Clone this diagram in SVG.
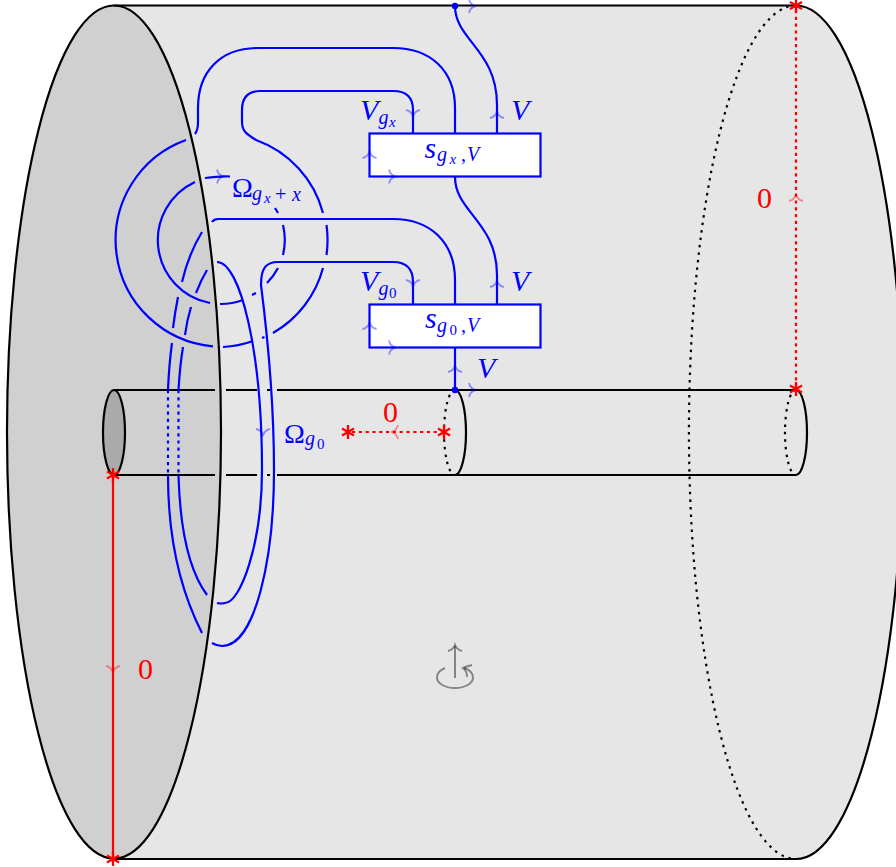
<svg xmlns="http://www.w3.org/2000/svg" xmlns:xlink="http://www.w3.org/1999/xlink" width="896" height="867" viewBox="0 0 896 867">
<style>
.k{fill:none;stroke:#000;stroke-width:2.2}
.kd{fill:none;stroke:#000;stroke-width:2.2;stroke-dasharray:2.5 5}
.b{fill:none;stroke:#00f;stroke-width:2.2}
.bd{fill:none;stroke:#00f;stroke-width:2.2;stroke-dasharray:3.2 4}
.box{fill:#fff;stroke:#00f;stroke-width:2.2}
.r{fill:none;stroke:#f00;stroke-width:2.2}
.rd{fill:none;stroke:#f00;stroke-width:2.2;stroke-dasharray:3.2 3.6}
.ab{fill:none;stroke:#00f;stroke-width:1.8;stroke-opacity:.4}
.ar{fill:none;stroke:#f00;stroke-width:1.8;stroke-opacity:.4}
.tb{font-family:"Liberation Serif",serif;fill:#00f;font-style:italic;font-size:30px}
.s{font-size:20px}
.ss{font-size:15px}
.tn{font-style:normal}
.tr{font-family:"Liberation Serif",serif;fill:#f00;font-size:30px}
</style>
<defs>
<path id="to" d="M-5 -7 C-4 -2.5 -1 -0.5 2 0 C-1 0.5 -4 2.5 -5 7"/>
<path id="st" d="M0 -7V7M-6 -3.500L6 3.500M-6 3.500L6 -3.500" fill="none" stroke="#f00" stroke-width="2.3"/>
</defs>
<g id="cylinder">
<path d="M114 5.500H796A107 426.500 0 0 1 796 859H114Z" fill="#e6e6e6"/>
<ellipse cx="114" cy="432" rx="107" ry="426.500" fill="#d0d0d0"/>
<path class="k" d="M114 5.500H796A107 426.500 0 0 1 796 859H114"/>
<path class="kd" d="M796 5.500A107 426.500 0 0 0 796 859"/>
<ellipse class="k" cx="114" cy="432" rx="107" ry="426.500"/>
</g>
<g id="tube">
<ellipse cx="114" cy="432.500" rx="11" ry="42.500" fill="#aaa" stroke="#000" stroke-width="2.2"/>
<path class="k" d="M114 390H215M226 390H257M267 390H270M277 390H796M114 475H215M226 475H257M267 475H270M277 475H796"/>
<path class="k" d="M455 390A11 42.500 0 0 1 455 475M796 390A11 42.500 0 0 1 796 475"/>
<path class="kd" d="M455 390A11 42.500 0 0 0 455 475M796 390A11 42.500 0 0 0 796 475"/>
</g>
<g id="connectors">
<path class="b" d="M455 6C455 40 497 50 497 105V134"/>
<path class="b" d="M455 177C455 212 497 222 497 275V304"/>
<path class="b" d="M455 347V390"/>
<path class="b" d="M455 133V108C455 70 430 48 393 48H258C220 48 198 72 198 108V122Q198 130 195 134"/>
<path class="b" d="M186 140A106.500 106.500 0 0 0 213 346.300"/>
<path class="b" d="M223 347A106.500 106.500 0 0 0 253 341M262 338L264.500 337M273 333A106.500 106.500 0 0 0 323 268M326.500 255A106.500 106.500 0 0 0 326.500 225"/>
<path class="b" d="M413 133V110Q413 91 393 91H260Q242 91 242 110V122C242 132 248 135 256 140A106.500 106.500 0 0 1 323 213"/>
<path class="b" d="M195 182A64 64 0 0 0 210 303"/>
<path class="b" d="M220 304A64 64 0 0 0 243 300M252 295L256 293M267 283A64 64 0 0 0 278 268M283 255A64 64 0 0 0 283 225M278 213L275 208M230 176.500Q220 176 205 178"/>
<path class="b" d="M455 304V280C455 242 430 219 393 219H218Q214 219 212 222"/>
<path class="b" d="M413 304V282Q413 262 393 262H278C266 262 261 268 261 285C268 340 274 400 274 470C274 560 255 646 222 646Q217 646 212 643"/>
<path class="b" d="M217 262C240 262 262 350 262 470C262 545 240 603 225 603Q221 604 217 603"/>
<path class="b" d="M202 232C194 245 186 265 182 282M178 297Q175 312 173 328M172 343Q169 365 168 390M168 475C168 540 180 590 202 633"/>
<path class="bd" d="M168 390V475M178.500 390V475"/>
<path class="b" d="M207 270Q201 280 196 293M191 307Q187 320 185 335M183 347Q180 365 178.500 390M178.500 475C180 530 190 572 207 595"/>
<circle cx="455" cy="6" r="3.200" fill="#00f"/>
<circle cx="455" cy="390" r="3.200" fill="#00f"/>
<path class="r" d="M113 475V859"/>
<path class="rd" d="M796 10V385"/>
<path class="rd" d="M352 432H440"/>
</g>
<g id="box-sgx"><rect class="box" x="369.500" y="133.500" width="171" height="43"/>
<text class="tb"><tspan x="424.500" y="158">s</tspan><tspan class="s" x="437" y="161">g</tspan><tspan class="ss" x="449.500" y="164">x</tspan><tspan class="s tn" x="461" y="161">,</tspan><tspan class="s" x="467" y="161">V</tspan></text></g>
<g id="box-sg0"><rect class="box" x="369.500" y="304.500" width="171" height="43"/>
<text class="tb"><tspan x="425" y="328">s</tspan><tspan class="s" x="437" y="332">g</tspan><tspan class="ss tn" x="449.500" y="335">0</tspan><tspan class="s tn" x="461" y="332">,</tspan><tspan class="s" x="467" y="332">V</tspan></text></g>
<g id="labels">
<text class="tb"><tspan x="360" y="120">V</tspan><tspan class="s" x="378.500" y="124">g</tspan><tspan class="ss" x="389" y="127">x</tspan></text>
<text class="tb" x="511" y="120">V</text>
<text class="tb"><tspan x="360" y="291">V</tspan><tspan class="s" x="378.500" y="295">g</tspan><tspan class="ss tn" x="389" y="298">0</tspan></text>
<text class="tb" x="511" y="291">V</text>
<text class="tb" x="477" y="378">V</text>
<text class="tb"><tspan class="tn" x="232" y="197" font-size="28">Ω</tspan><tspan class="s" x="252" y="200">g</tspan><tspan class="ss" x="264" y="203">x</tspan><tspan class="s tn" x="275" y="201">+</tspan><tspan class="s" x="292" y="201">x</tspan></text>
<text class="tb"><tspan class="tn" x="284" y="443" font-size="28">Ω</tspan><tspan class="s" x="305" y="445">g</tspan><tspan class="ss tn" x="317" y="449">0</tspan></text>
<text class="tr" x="757" y="208">0</text>
<text class="tr" x="383" y="422">0</text>
<text class="tr" x="138" y="679">0</text>
</g>
<g id="arrows">
<use xlink:href="#to" class="ab" transform="translate(474 6)"/>
<use xlink:href="#to" class="ab" transform="translate(413 115) rotate(90)"/>
<use xlink:href="#to" class="ab" transform="translate(497 113) rotate(-90)"/>
<use xlink:href="#to" class="ab" transform="translate(369.500 153) rotate(-90)"/>
<use xlink:href="#to" class="ab" transform="translate(394 176.500)"/>
<use xlink:href="#to" class="ab" transform="translate(413 285) rotate(90)"/>
<use xlink:href="#to" class="ab" transform="translate(497 282) rotate(-90)"/>
<use xlink:href="#to" class="ab" transform="translate(369.500 324) rotate(-90)"/>
<use xlink:href="#to" class="ab" transform="translate(394 347.500)"/>
<use xlink:href="#to" class="ab" transform="translate(455 367) rotate(-90)"/>
<use xlink:href="#to" class="ab" transform="translate(474 390)"/>
<use xlink:href="#to" class="ab" transform="translate(263 434) rotate(90)"/>
<use xlink:href="#to" class="ab" transform="translate(222 176.500)"/>
<use xlink:href="#to" class="ar" transform="translate(796 196) rotate(-90)"/>
<use xlink:href="#to" class="ar" transform="translate(393 432) rotate(180)"/>
<use xlink:href="#to" class="ar" transform="translate(113 671) rotate(90)"/>
</g>
<g id="marks">
<use xlink:href="#st" x="113" y="475"/>
<use xlink:href="#st" x="113" y="859"/>
<use xlink:href="#st" x="796" y="5.500"/>
<use xlink:href="#st" x="796" y="389"/>
<use xlink:href="#st" x="348" y="432"/>
<use xlink:href="#st" x="444" y="432"/>
</g>
<g id="rotation" fill="none" stroke="#000" stroke-width="2" stroke-opacity=".42">
<path d="M455 678V646"/>
<path d="M448 651C451 650 454 648 455 645C456 648 459 650 462 651"/>
<path d="M445 668C440 670 437 673 437 677.500C437 683.500 445 688 455 688C465 688 473 683.500 473 677.500C473 673 470 670 464 668"/>
<path d="M472 665C468 666 465 667 463 668C466 670 467 673 467 677"/>
</g>
</svg>
